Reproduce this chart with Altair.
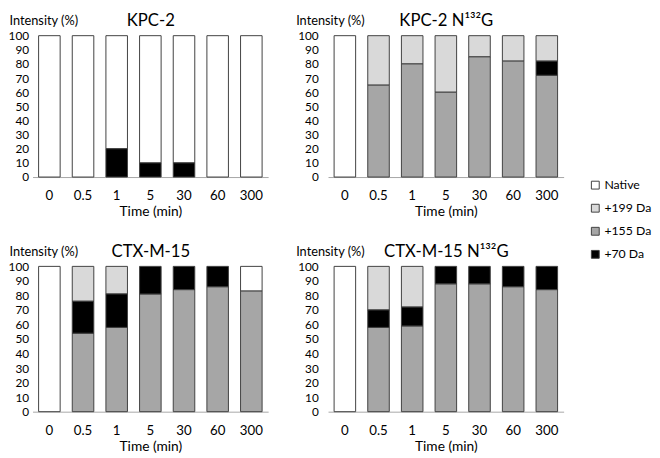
import altair as alt
import pandas as pd

FONT = "Lato"

times = ["0", "0.5", "1", "5", "30", "60", "300"]
series = ["Native", "+199 Da", "+155 Da", "+70 Da"]
colors = ["#ffffff", "#d9d9d9", "#a6a6a6", "#000000"]
stack_order = {"+155 Da": 0, "+70 Da": 1, "+199 Da": 2, "Native": 3}

# KPC-2
kpc2_native = [100, 100, 80, 90, 90, 100, 100]
kpc2_199 = [0, 0, 0, 0, 0, 0, 0]
kpc2_155 = [0, 0, 0, 0, 0, 0, 0]
kpc2_70 = [0, 0, 20, 10, 10, 0, 0]

# KPC-2 N132G
kpc2m_native = [100, 0, 0, 0, 0, 0, 0]
kpc2m_199 = [0, 35, 20, 40, 15, 18, 18]
kpc2m_155 = [0, 65, 80, 60, 85, 82, 72]
kpc2m_70 = [0, 0, 0, 0, 0, 0, 10]

# CTX-M-15
ctx_native = [100, 0, 0, 0, 0, 0, 17]
ctx_199 = [0, 24, 19, 0, 0, 0, 0]
ctx_155 = [0, 54, 58, 81, 84, 86, 83]
ctx_70 = [0, 22, 23, 19, 16, 14, 0]

# CTX-M-15 N132G
ctxm_native = [100, 0, 0, 0, 0, 0, 0]
ctxm_199 = [0, 30, 28, 0, 0, 0, 0]
ctxm_155 = [0, 58, 59, 88, 88, 86, 84]
ctxm_70 = [0, 12, 13, 12, 12, 14, 16]

W = 240


def panel(title, native, s199, s155, s70, left, h):
    rows = []
    for name, vals in zip(series, [native, s199, s155, s70]):
        for t, v in zip(times, vals):
            if v > 0:
                rows.append({"time": t, "series": name, "value": v, "ord": stack_order[name]})
    df = pd.DataFrame(rows)
    xscale = alt.Scale(paddingInner=0.36, paddingOuter=0.18)
    yscale = alt.Scale(domain=[0, 100], nice=False)
    base = alt.Chart(df)
    bars = base.mark_bar(stroke="#404040", strokeWidth=1).encode(
        x=alt.X("time:N", sort=times, scale=xscale,
                axis=alt.Axis(labelAngle=0, ticks=False, domainColor="#a6a6a6",
                              labelPadding=12, labelFontSize=13.5, labelColor="black",
                              title="Time (min)", titleFontSize=14, titlePadding=3,
                              titleFontWeight="normal", titleColor="black")),
        y=alt.Y("value:Q", stack="zero", scale=yscale,
                axis=alt.Axis(values=list(range(0, 101, 10)), domain=False, ticks=False,
                              grid=False, labelFontSize=12, labelColor="black",
                              labelPadding=4 if left else 10,
                              title="Intensity (%)", titleAngle=0, titleAlign="left",
                              titleBaseline="middle", titleX=-24 if left else -33,
                              titleY=-15, titleFontSize=13, titleFontWeight="normal",
                              titleColor="black")),
        color=alt.Color("series:N", scale=alt.Scale(domain=series, range=colors),
                        legend=alt.Legend(orient="none", legendX=567, legendY=146,
                                          title=None, symbolType="square", symbolSize=64,
                                          symbolStrokeColor="#404040", symbolStrokeWidth=1,
                                          labelFontSize=12.5, labelColor="black",
                                          rowPadding=10.5, labelOffset=3)),
        order=alt.Order("ord:Q"),
    )
    top = base.mark_bar(opacity=0).encode(
        x=alt.X("time:N", sort=times, scale=xscale,
                axis=alt.Axis(orient="top", labels=False, ticks=False, domain=False,
                              grid=False, title=title, titleFontSize=17,
                              titleFontWeight="normal", titleColor="black",
                              titleBaseline="middle", titleY=-15)),
    )
    return alt.layer(bars, top).resolve_axis(x="independent").properties(width=W, height=h)


tl = panel("KPC-2", kpc2_native, kpc2_199, kpc2_155, kpc2_70, True, 144)
tr = panel("KPC-2 N\u00b9\u00b3\u00b2G", kpc2m_native, kpc2m_199, kpc2m_155, kpc2m_70, False, 144)
bl = panel("CTX-M-15", ctx_native, ctx_199, ctx_155, ctx_70, True, 148)
br = panel("CTX-M-15 N\u00b9\u00b3\u00b2G", ctxm_native, ctxm_199, ctxm_155, ctxm_70, False, 148)

chart = alt.vconcat(
    alt.hconcat(tl, tr, spacing=28),
    alt.hconcat(bl, br, spacing=28),
    spacing=24,
).properties(padding=0).configure(font=FONT).configure_view(stroke=None)

chart.save("out.html", embed_options={"renderer": "svg", "actions": False})
